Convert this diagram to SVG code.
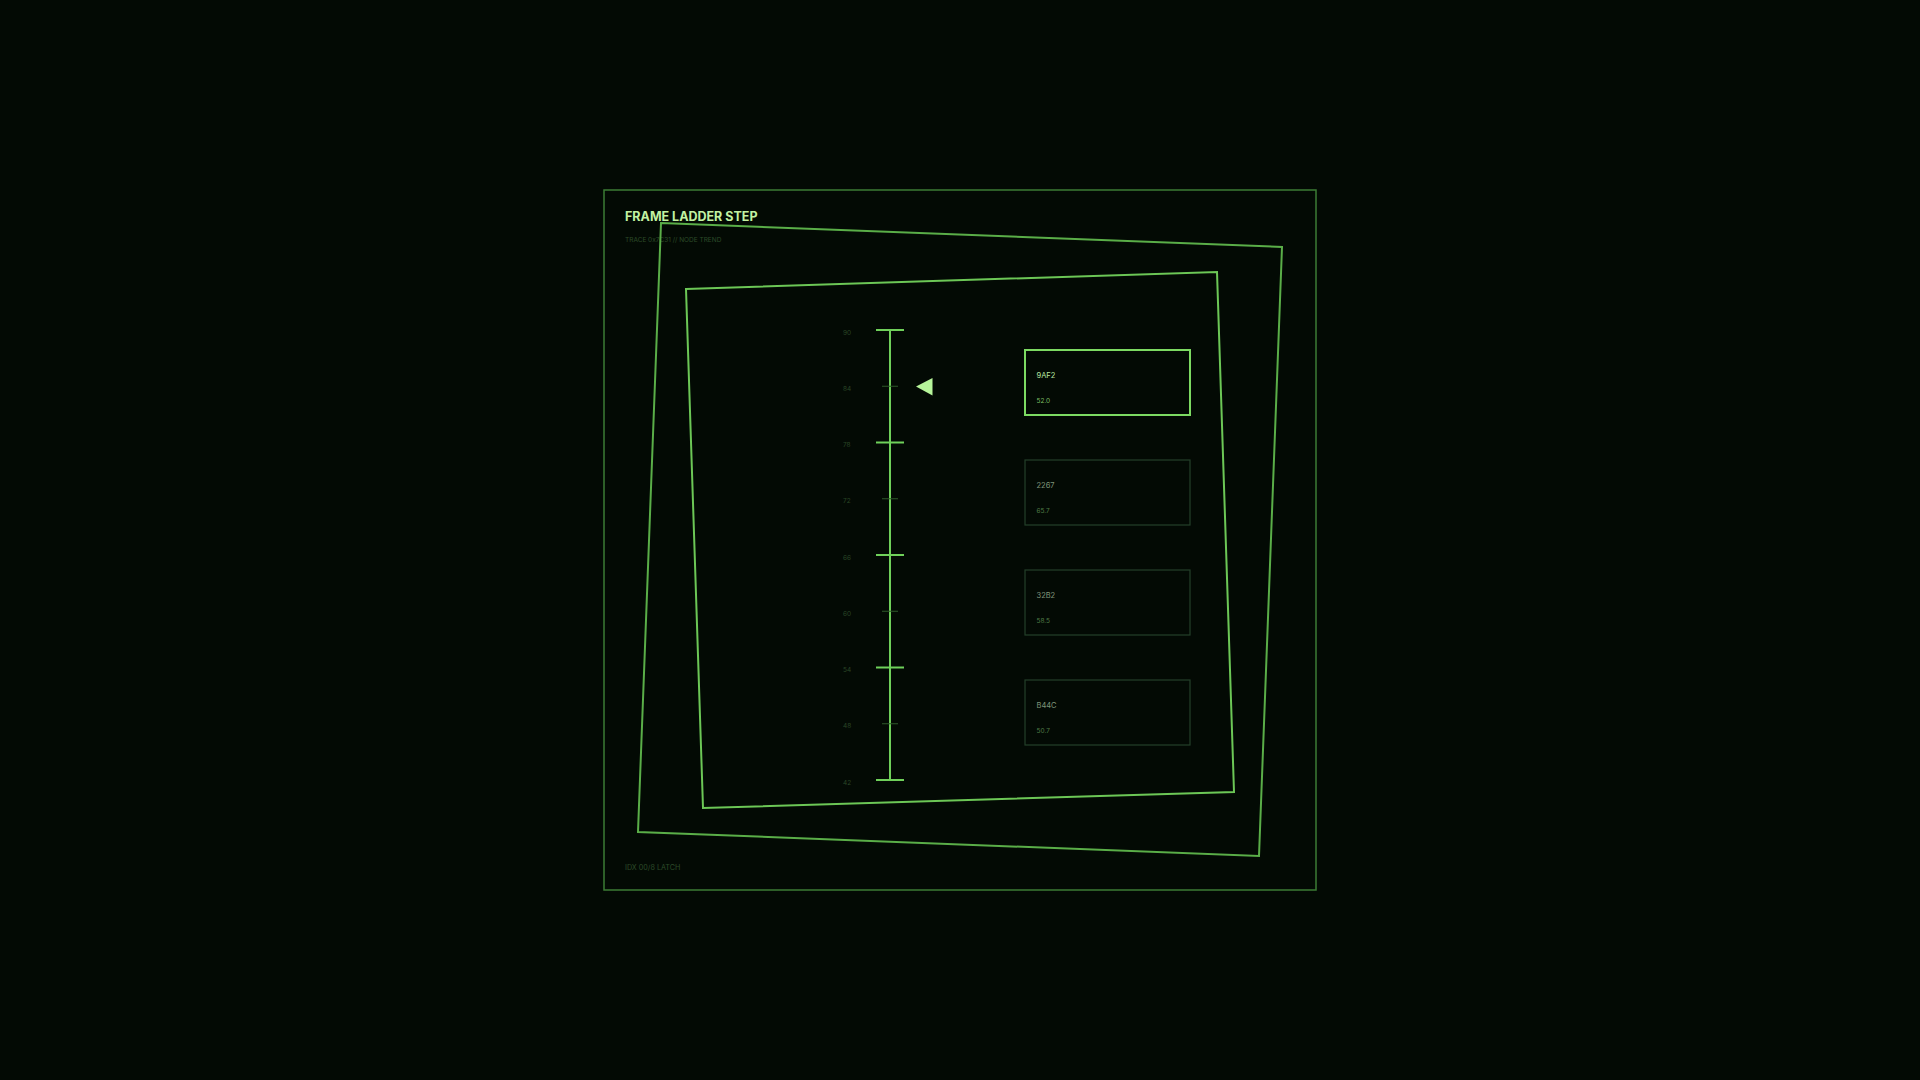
<svg xmlns="http://www.w3.org/2000/svg" width="1920" height="1080" viewBox="0 0 1920 1080">
  <defs>
    <style>
      .bg { fill: #030a04; }
      .frame { fill: none; stroke: #3c7c34; stroke-width: 1.5; }
      .tilt1 { fill: none; stroke: #5aae48; stroke-width: 2; }
      .tilt2 { fill: none; stroke: #6cc756; stroke-width: 2; }
      .title { font-family: Inter, "Noto Sans", "Liberation Sans", sans-serif; font-weight: 700; font-size: 12.5px; fill: #c2f2a2; }
      .meta { font-family: Inter, "Noto Sans", "Liberation Sans", sans-serif; font-size: 6.5px; fill: #2c4a28; }
      .foot { font-family: Inter, "Noto Sans", "Liberation Sans", sans-serif; font-size: 7.2px; fill: #2c4a28; }
      .axis { stroke: #6fd05a; stroke-width: 2; fill: none; }
      .minor { stroke: #2f5a2a; stroke-width: 1; fill: none; }
      .tick-label { font-family: Inter, "Noto Sans", "Liberation Sans", sans-serif; font-size: 6.5px; fill: #2a4626; }
      .box-active { fill: none; stroke: #7cda62; stroke-width: 2; }
      .box { fill: none; stroke: #24402a; stroke-width: 1.2; }
      .id-active { font-family: Inter, "Noto Sans", "Liberation Sans", sans-serif; font-size: 7.5px; fill: #b8e6a0; }
      .val-active { font-family: Inter, "Noto Sans", "Liberation Sans", sans-serif; font-size: 6.5px; fill: #7bbd62; }
      .id { font-family: Inter, "Noto Sans", "Liberation Sans", sans-serif; font-size: 7.5px; fill: #7f9479; }
      .val { font-family: Inter, "Noto Sans", "Liberation Sans", sans-serif; font-size: 6.5px; fill: #4f7a44; }
      .pointer { fill: #b6f59a; }
    </style>
  </defs>
  <rect class="bg" x="0" y="0" width="1920" height="1080"/>

  <g id="frame">
    <rect class="frame" x="604" y="190" width="712" height="700"/>
    <text class="title" x="625" y="220.5">FRAME LADDER STEP</text>
    <text class="meta" x="625" y="242">TRACE 0x7C31 // NODE TREND</text>
    <text class="foot" x="625" y="870">IDX 00/8 LATCH</text>
  </g>

  <g id="tilt-outer">
    <polygon class="tilt1" points="661,223 1282,247 1259,856 638,832"/>
  </g>
  <g id="tilt-inner">
    <polygon class="tilt2" points="686,289 1217,272 1234,792 703,808"/>
  </g>

  <g id="ladder">
    <line class="axis" x1="890" y1="330" x2="890" y2="780"/>
    <line class="axis" x1="876" y1="330" x2="904" y2="330"/>
    <line class="axis" x1="876" y1="442.5" x2="904" y2="442.5"/>
    <line class="axis" x1="876" y1="555" x2="904" y2="555"/>
    <line class="axis" x1="876" y1="667.5" x2="904" y2="667.5"/>
    <line class="axis" x1="876" y1="780" x2="904" y2="780"/>
    <line class="minor" x1="882" y1="386.25" x2="898" y2="386.25"/>
    <line class="minor" x1="882" y1="498.75" x2="898" y2="498.75"/>
    <line class="minor" x1="882" y1="611.25" x2="898" y2="611.25"/>
    <line class="minor" x1="882" y1="723.75" x2="898" y2="723.75"/>
    <text class="tick-label" x="843" y="334.5">90</text>
    <text class="tick-label" x="843" y="390.7">84</text>
    <text class="tick-label" x="843" y="447">78</text>
    <text class="tick-label" x="843" y="503.2">72</text>
    <text class="tick-label" x="843" y="559.5">66</text>
    <text class="tick-label" x="843" y="615.7">60</text>
    <text class="tick-label" x="843" y="672">54</text>
    <text class="tick-label" x="843" y="728.2">48</text>
    <text class="tick-label" x="843" y="784.5">42</text>
  </g>

  <g id="pointer">
    <polygon class="pointer" points="916,386.5 932.5,378 932.5,395.5"/>
  </g>

  <g id="connectors"></g>

  <g id="node-9AF2">
    <rect class="box-active" x="1025" y="350" width="165" height="65"/>
    <text class="id-active" x="1036.5" y="377.5">9AF2</text>
    <text class="val-active" x="1036.5" y="403">52.0</text>
  </g>
  <g id="node-2267">
    <rect class="box" x="1025" y="460" width="165" height="65"/>
    <text class="id" x="1036.5" y="487.5">2267</text>
    <text class="val" x="1036.5" y="513">65.7</text>
  </g>
  <g id="node-32B2">
    <rect class="box" x="1025" y="570" width="165" height="65"/>
    <text class="id" x="1036.5" y="597.5">32B2</text>
    <text class="val" x="1036.5" y="623">58.5</text>
  </g>
  <g id="node-B44C">
    <rect class="box" x="1025" y="680" width="165" height="65"/>
    <text class="id" x="1036.5" y="707.5">B44C</text>
    <text class="val" x="1036.5" y="733">50.7</text>
  </g>
</svg>
